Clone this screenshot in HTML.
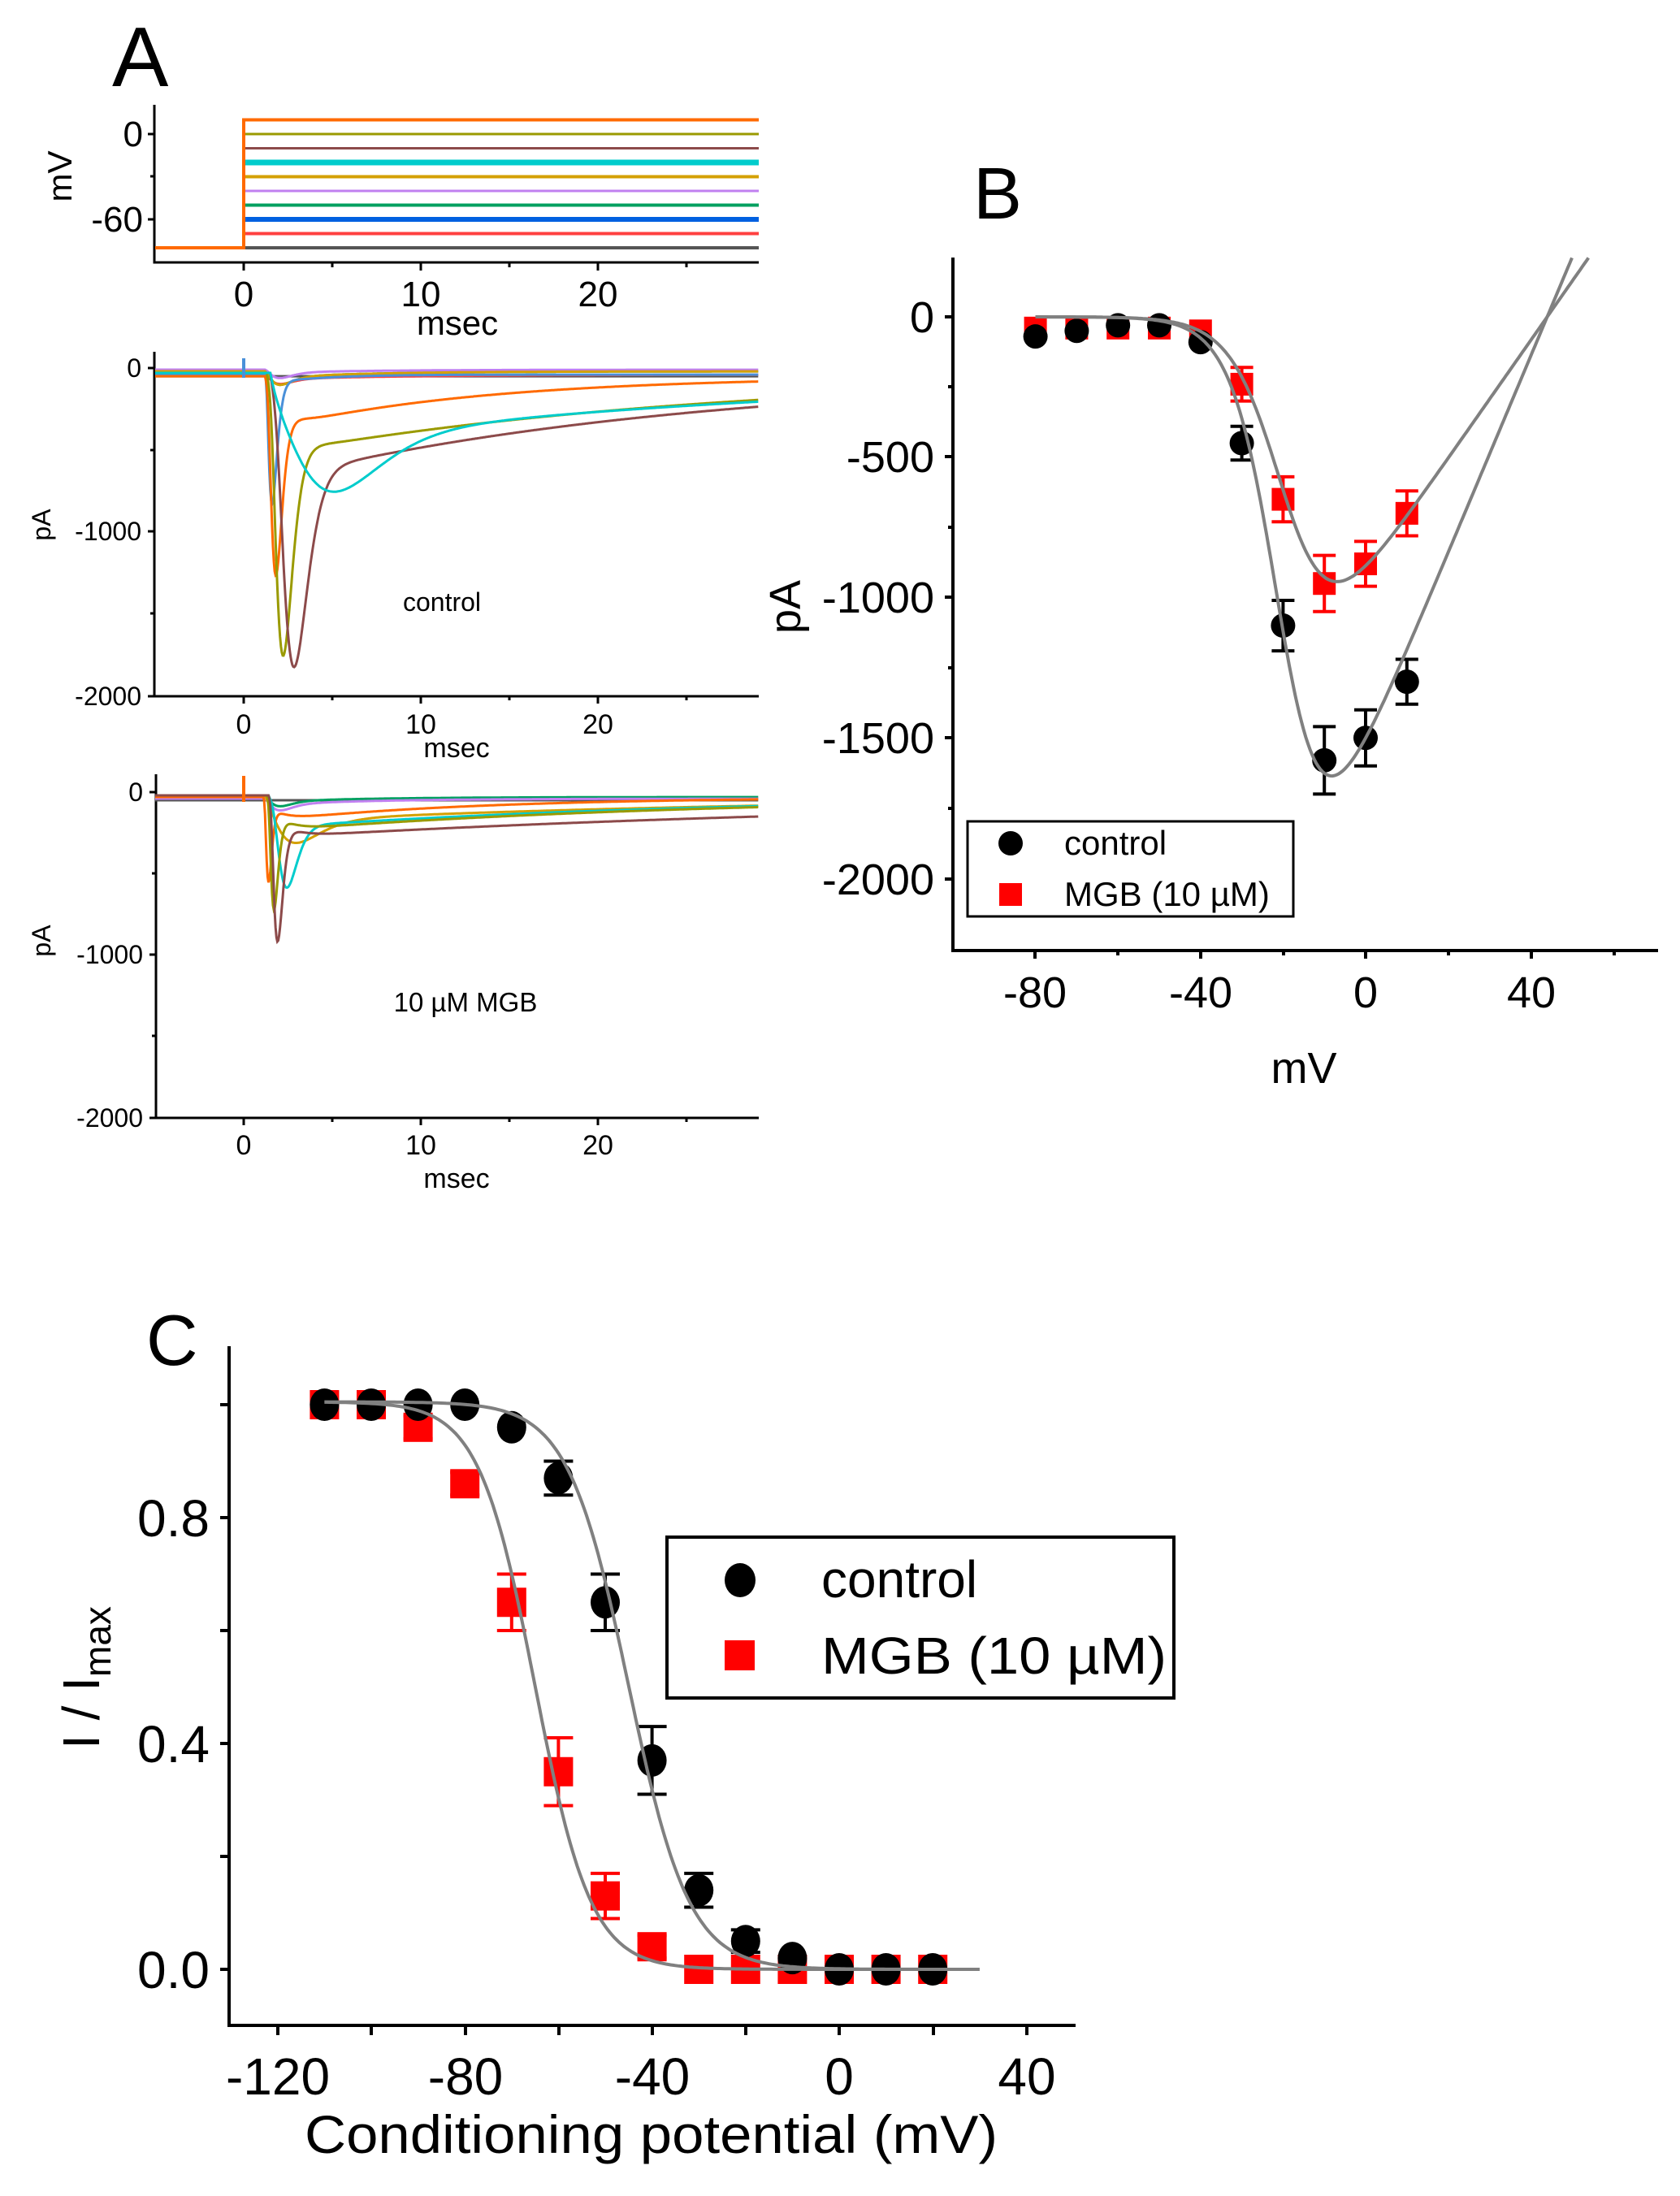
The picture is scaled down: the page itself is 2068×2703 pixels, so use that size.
<!DOCTYPE html>
<html><head><meta charset="utf-8">
<style>
html,body{margin:0;padding:0;background:#fff;}
svg{display:block;}
text{font-family:"Liberation Sans",sans-serif;fill:#000;}
</style></head>
<body>
<svg id="s" xmlns="http://www.w3.org/2000/svg" width="2068" height="2703" viewBox="0 0 2068 2703">
<rect width="2068" height="2703" fill="#fff"/>
<text x="138" y="106" font-size="104">A</text>
<text x="1198" y="269" font-size="90">B</text>
<text x="180" y="1680" font-size="88">C</text>

<g stroke="#000" stroke-width="3" fill="none">
<path d="M190,129 V323 H934"/>
<path d="M182,165 H190 M182,270 H190 M185,217 H190 M300,323 V333 M518,323 V333 M736,323 V333 M409,323 V329 M627,323 V329 M845,323 V329"/>
</g>
<g font-size="44" text-anchor="end">
<text x="176" y="180">0</text>
<text x="176" y="285">-60</text>
</g>
<text transform="translate(88,217) rotate(-90)" font-size="42" text-anchor="middle">mV</text>
<g font-size="44" text-anchor="middle">
<text x="300" y="377">0</text><text x="518" y="377">10</text><text x="736" y="377">20</text>
</g>
<text x="563" y="412" font-size="42" text-anchor="middle">msec</text>

<g stroke="#000" stroke-width="3" fill="none">
<path d="M190,433 V857 H934"/>
<path d="M182,453 H190 M182,654 H190 M182,857 H190 M185,554 H190 M185,755 H190 M300,857 V866 M518,857 V866 M736,857 V866 M409,857 V862 M627,857 V862 M845,857 V862"/>
</g>
<g font-size="32" text-anchor="end">
<text x="174" y="464">0</text><text x="174" y="665">-1000</text><text x="174" y="868">-2000</text>
</g>
<text transform="translate(62,646) rotate(-90)" font-size="32" text-anchor="middle">pA</text>
<g font-size="34" text-anchor="middle">
<text x="300" y="903">0</text><text x="518" y="903">10</text><text x="736" y="903">20</text>
</g>
<text x="562" y="932" font-size="34" text-anchor="middle">msec</text>
<text x="544" y="752" font-size="32" text-anchor="middle">control</text>

<g stroke="#000" stroke-width="3" fill="none">
<path d="M192,953 V1376 H934"/>
<path d="M184,975 H192 M184,1175 H192 M184,1376 H192 M187,1075 H192 M187,1275 H192 M300,1376 V1385 M518,1376 V1385 M736,1376 V1385 M409,1376 V1381 M627,1376 V1381 M845,1376 V1381"/>
</g>
<g font-size="32" text-anchor="end">
<text x="176" y="986">0</text><text x="176" y="1186">-1000</text><text x="176" y="1387">-2000</text>
</g>
<text transform="translate(62,1158) rotate(-90)" font-size="32" text-anchor="middle">pA</text>
<g font-size="34" text-anchor="middle">
<text x="300" y="1421">0</text><text x="518" y="1421">10</text><text x="736" y="1421">20</text>
</g>
<text x="562" y="1462" font-size="34" text-anchor="middle">msec</text>
<text x="573" y="1245" font-size="33" text-anchor="middle">10 µM MGB</text>

<g stroke="#000" stroke-width="4" fill="none">
<path d="M1173,317 V1170 H2041"/>
<path d="M1163,390 H1173 M1163,562 H1173 M1163,735 H1173 M1163,908 H1173 M1163,1082 H1173 M1167,476 H1173 M1167,649 H1173 M1167,822 H1173 M1167,995 H1173
M1274,1170 V1180 M1478,1170 V1180 M1681,1170 V1180 M1885,1170 V1180 M1376,1170 V1176 M1580,1170 V1176 M1783,1170 V1176 M1987,1170 V1176"/>
</g>
<g font-size="54" text-anchor="end">
<text x="1150" y="409">0</text><text x="1150" y="581">-500</text><text x="1150" y="754">-1000</text><text x="1150" y="927">-1500</text><text x="1150" y="1101">-2000</text>
</g>
<g font-size="54" text-anchor="middle">
<text x="1274" y="1240">-80</text><text x="1478" y="1240">-40</text><text x="1681" y="1240">0</text><text x="1885" y="1240">40</text>
</g>
<text x="1605" y="1333" font-size="54" text-anchor="middle">mV</text>
<text transform="translate(985,747) rotate(-90)" font-size="54" text-anchor="middle">pA</text>
<g id="B"></g>
<rect x="1191" y="1011" width="401" height="117" fill="#fff" stroke="#000" stroke-width="3"/>
<circle cx="1244" cy="1038" r="15" fill="#000"/>
<rect x="1230" y="1087" width="28" height="28" fill="#f00"/>
<text x="1310" y="1052" font-size="42">control</text>
<text x="1310" y="1115" font-size="42">MGB (10 µM)</text>

<g stroke="#000" stroke-width="4" fill="none">
<path d="M282,1657 V2493 H1324"/>
<path d="M271,1729 H282 M271,1868 H282 M271,2007 H282 M271,2146 H282 M271,2285 H282 M271,2424 H282
M342,2493 V2505 M457,2493 V2505 M573,2493 V2505 M688,2493 V2505 M803,2493 V2505 M918,2493 V2505 M1033,2493 V2505 M1149,2493 V2505 M1264,2493 V2505"/>
</g>
<g font-size="64" text-anchor="end">
<text x="258" y="1891">0.8</text><text x="258" y="2169">0.4</text><text x="258" y="2447">0.0</text>
</g>
<g font-size="64" text-anchor="middle">
<text x="342" y="2578">-120</text><text x="573" y="2578">-80</text><text x="803" y="2578">-40</text><text x="1033" y="2578">0</text><text x="1264" y="2578">40</text>
</g>
<text x="375" y="2650" font-size="66" textLength="853" lengthAdjust="spacingAndGlyphs">Conditioning potential (mV)</text>
<text transform="translate(122,2065) rotate(-90)" font-size="64" text-anchor="middle">I / I<tspan font-size="46" dy="14">max</tspan></text>
<g id="C"></g>
<rect x="821" y="1892" width="624" height="198" fill="#fff" stroke="#000" stroke-width="4"/>
<ellipse cx="911" cy="1945" rx="19" ry="21" fill="#000"/>
<rect x="892" y="2019" width="37" height="37" fill="#f00"/>
<text x="1011" y="1966" font-size="64">control</text>
<text x="1011" y="2060" font-size="64" textLength="425" lengthAdjust="spacingAndGlyphs">MGB (10 µM)</text>

<g id="A"></g>
</svg>
<script>
var NS="http://www.w3.org/2000/svg";
function el(p,tag,a){var e=document.createElementNS(NS,tag);for(var k in a)e.setAttribute(k,a[k]);document.getElementById(p).appendChild(e);return e;}
var tx=function(t){return 300+21.8*t;};
var vy=function(v){return 165-1.75*v;};
var vs=[[10,"#ff6a00",4],[0,"#9a9a00",3],[-10,"#8c4a4a",3],[-20,"#00cccc",7],[-30,"#d4a000",4],[-40,"#c080f0",3],[-50,"#00a060",4],[-60,"#0060e0",6],[-70,"#ff4040",4],[-80,"#555",4]];
vs.forEach(function(s){el("A","line",{x1:301,x2:934,y1:vy(s[0]),y2:vy(s[0]),stroke:s[1],"stroke-width":s[2]});});
el("A","path",{d:"M191,"+vy(-80)+" H300 V"+vy(10)+" H934",stroke:"#ff6a00","stroke-width":4,fill:"none"});
function trace(par,y0,sc,c,t0,tp,P,n,S,tau,base,w){
  var d="";
  for(var t=-5;t<=29.1;t+=0.05){
    var I=base;
    if(t>t0){var x=(t-t0)/(tp-t0);I+=-P*Math.pow(x*Math.exp(1-x),n)-S*(1-Math.exp(-(t-t0)/0.8))*Math.exp(-(t-t0)/tau);}
    var y=y0-sc*I; if(y<y0-20)y=y0-20;
    d+=(d?"L":"M")+tx(t).toFixed(1)+","+y.toFixed(1);
  }
  el("A","path",{d:d,stroke:c,"stroke-width":w||3,fill:"none"});
}
var cy=453,cs=0.2015;
trace("A",cy,cs,"#555",1,2,0,1,0,1,-50);
trace("A",cy,cs,"#ff4040",1.2,2,40,2,30,8,-40);
trace("A",cy,cs,"#00a060",1.2,2,60,2,40,6,-20);
trace("A",cy,cs,"#c080f0",1.2,2,40,2,20,6,-10);
trace("A",cy,cs,"#d4a000",1.2,2,60,2,40,6,-20);
trace("A",cy,cs,"#4a90d9",1.2,1.6,770,3,60,3,-40);
trace("A",cy,cs,"#ff6a00",1.2,1.8,1050,4,330,12,-50);
trace("A",cy,cs,"#9a9a00",1.3,2.2,1400,4,500,25,-30);
trace("A",cy,cs,"#8c4a4a",1.5,2.8,1300,4,650,24,-30);
trace("A",cy,cs,"#00cccc",1.5,5.2,340,3,440,30,-30);
el("A","line",{x1:tx(0),x2:tx(0),y1:cy+12,y2:cy-12,stroke:"#4a90d9","stroke-width":4});
var by=975,bs=0.2;
trace("A",by,bs,"#555",1,2,0,1,0,1,-50);
trace("A",by,bs,"#00a060",1.2,2,40,2,30,6,-30);
trace("A",by,bs,"#c080f0",1.2,2,50,2,40,6,-40);
trace("A",by,bs,"#d4a000",1.2,2.8,160,2,160,30,-20);
trace("A",by,bs,"#ff6a00",1.1,1.4,480,4,150,12,-30);
trace("A",by,bs,"#00cccc",1.4,2.4,430,4,200,25,-20);
trace("A",by,bs,"#9a9a00",1.3,1.7,620,4,220,25,-20);
trace("A",by,bs,"#8c4a4a",1.4,1.9,780,4,260,40,-20);
el("A","line",{x1:tx(0),x2:tx(0),y1:by+12,y2:by-20,stroke:"#ff6a00","stroke-width":4});

var bx=function(v){return 1681+5.08*v;}, byy=function(i){return 390-0.3455*i;};
function fitB(G,vh,k){var d="";for(var v=-80;v<=60;v+=0.5){var I=G*(v-44)/(1+Math.exp((vh-v)/k));var y=byy(I);if(y<317)break;d+=(d?"L":"M")+bx(v).toFixed(1)+","+y.toFixed(1);}el("B","path",{d:d,stroke:"#808080","stroke-width":4,fill:"none"});}
var ctl=[[-80,-70,0],[-70,-50,0],[-60,-30,0],[-50,-30,0],[-40,-90,0],[-30,-450,60],[-20,-1100,90],[-10,-1580,120],[0,-1500,100],[10,-1300,80]];
var mgb=[[-80,-40,0],[-70,-40,0],[-60,-40,0],[-50,-40,0],[-40,-50,0],[-30,-240,60],[-20,-650,80],[-10,-950,100],[0,-880,80],[10,-700,80]];
function eb(g,x,y1,y2,c,w,sw){el(g,"path",{d:"M"+x+","+y1+"V"+y2+"M"+(x-w)+","+y1+"H"+(x+w)+"M"+(x-w)+","+y2+"H"+(x+w),stroke:c,"stroke-width":sw,fill:"none"});}
mgb.forEach(function(p){var x=bx(p[0]),y=byy(p[1]);el("B","rect",{x:x-14,y:y-14,width:28,height:28,fill:"#f00"});if(p[2])eb("B",x,byy(p[1]+p[2]),byy(p[1]-p[2]),"#f00",14,4);});
ctl.forEach(function(p){var x=bx(p[0]),y=byy(p[1]);el("B","circle",{cx:x,cy:y,r:15,fill:"#000"});if(p[2])eb("B",x,byy(p[1]+p[2]),byy(p[1]-p[2]),"#000",14,4);});
fitB(35,-20,5.5);fitB(21,-19,6);

var cx=function(v){return 1033+5.76*v;}, cyy=function(f){return 2424-695*f;};
function fitC(vh,k){var d="";for(var v=-110;v<=30;v+=0.5){var f=1.005/(1+Math.exp((v-vh)/k));d+=(d?"L":"M")+cx(v).toFixed(1)+","+cyy(f).toFixed(1);}el("C","path",{d:d,stroke:"#808080","stroke-width":4,fill:"none"});}
var cc=[[-110,1,0],[-100,1,0],[-90,1,0],[-80,1,0],[-70,.96,0],[-60,.87,.03],[-50,.65,.05],[-40,.37,.06],[-30,.14,.03],[-20,.05,.02],[-10,.02,0],[0,0,0],[10,0,0],[20,0,0]];
var cm=[[-110,1,0],[-100,1,0],[-90,.96,.02],[-80,.86,.02],[-70,.65,.05],[-60,.35,.06],[-50,.13,.04],[-40,.04,.02],[-30,0,0],[-20,0,0],[-10,0,0],[0,0,0],[10,0,0],[20,0,0]];
cm.forEach(function(p){var x=cx(p[0]),y=cyy(p[1]);el("C","rect",{x:x-18,y:y-18,width:36,height:36,fill:"#f00"});if(p[2])eb("C",x,cyy(p[1]+p[2]),cyy(p[1]-p[2]),"#f00",18,4);});
cc.forEach(function(p){var x=cx(p[0]),y=cyy(p[1]);el("C","ellipse",{cx:x,cy:y,rx:18,ry:20,fill:"#000"});if(p[2])eb("C",x,cyy(p[1]+p[2]),cyy(p[1]-p[2]),"#000",18,4);});
fitC(-45,6.5);fitC(-65,6);
</script>
</body></html>
